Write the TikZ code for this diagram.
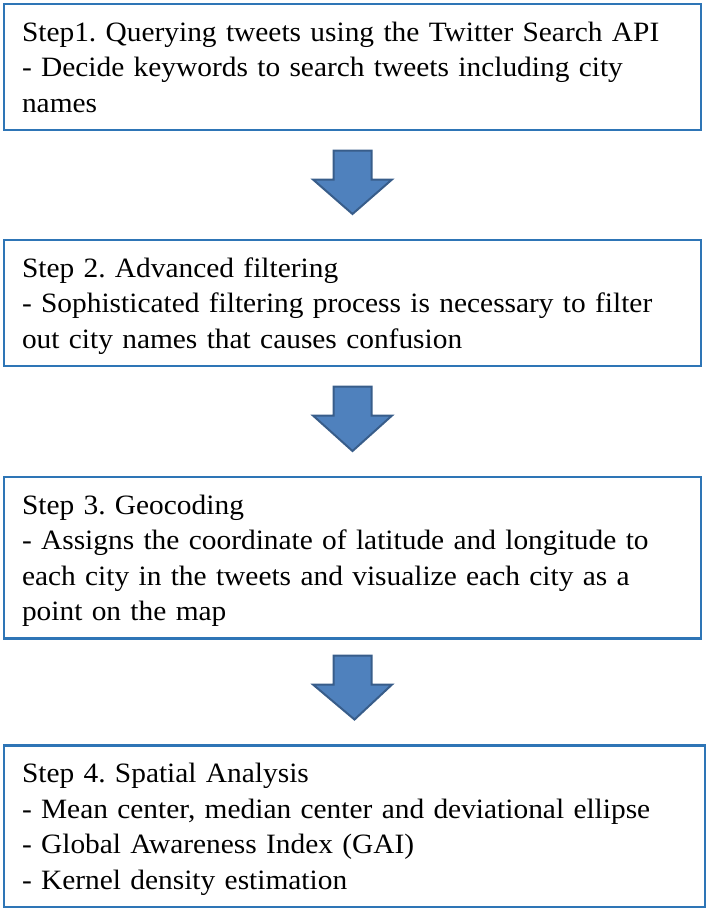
\documentclass[tikz,border=0pt]{standalone}
\usepackage{fontspec}
\setmainfont{Liberation Serif}[FakeStretch=1.05]
\usetikzlibrary{positioning,calc}
\frenchspacing

\definecolor{boxblue}{RGB}{46,117,182}
\definecolor{arrowfill}{RGB}{79,129,189}
\definecolor{arrowedge}{RGB}{56,93,138}

\tikzset{
    stepbox/.style={draw=boxblue, line width=2.5pt, rectangle, outer sep=0pt,
        inner xsep=18pt, inner ysep=12pt, text width=661pt, align=left,
        font=\fontsize{28}{35.5}\selectfont,
        execute at begin node=\rule{0pt}{25pt},
        execute at end node=\rule[-6pt]{0pt}{6pt}},
    blockarrow/.style={fill=arrowfill, draw=arrowedge, line width=2pt, line join=miter}
}

\begin{document}
\begin{tikzpicture}[x=1pt,y=1pt]
        \useasboundingbox (0,0) rectangle (712,-911);

        % Draw the four steps
        \node[stepbox, anchor=north west] (s1) at (4,-4)
            {Step1. Querying tweets using the Twitter Search API\\
             - Decide keywords to search tweets including city\\
             names};
        \node[stepbox, below=110pt of s1] (s2)
            {Step 2. Advanced filtering\\
             - Sophisticated filtering process is necessary to filter\\
             out city names that causes confusion};
        \node[stepbox, below=111pt of s2] (s3)
            {Step 3. Geocoding\\
             - Assigns the coordinate of latitude and longitude to\\
             each city in the tweets and visualize each city as a\\
             point on the map};
        \node[stepbox, below=107pt of s3, xshift=2pt, text width=665pt] (s4)
            {Step 4. Spatial Analysis\\
             - Mean center, median center and deviational ellipse\\
             - Global Awareness Index (GAI)\\
             - Kernel density estimation};

        % Draw first arrow
        \draw[blockarrow] ($(s1.south)+(-19,-20.5)$) -- ++(38,0) -- ++(0,-29)
            -- ++(20.5,0) -- ($(s2.north)+(0,26)$) -- ($(s1.south)+(-39.5,-49.5)$)
            -- ++(20.5,0) -- cycle;

        % Draw second arrow
        \draw[blockarrow] ($(s2.south)+(-19,-20.5)$) -- ++(38,0) -- ++(0,-29)
            -- ++(20.5,0) -- ($(s3.north)+(0,26)$) -- ($(s2.south)+(-39.5,-49.5)$)
            -- ++(20.5,0) -- cycle;

        % Draw third arrow
        \draw[blockarrow] ($(s3.south)+(-19,-17)$) -- ++(38,0) -- ++(0,-29)
            -- ++(20.5,0) -- ($(s4.north)+(0,26)$) -- ($(s3.south)+(-39.5,-46)$)
            -- ++(20.5,0) -- cycle;
    \end{tikzpicture}
\end{document}
